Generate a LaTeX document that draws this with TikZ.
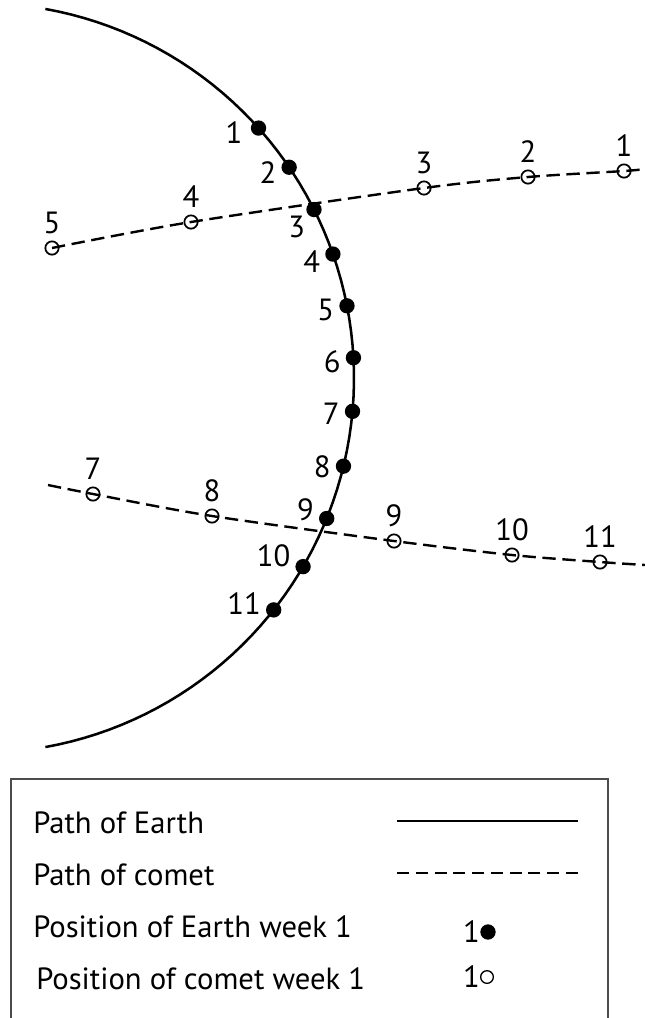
\documentclass[tikz,border=0pt]{standalone}
\usepackage{fontspec}
\setmainfont{PT Sans}
\usetikzlibrary{positioning}

\begin{document}
\begin{tikzpicture}[x=0.75pt,y=-0.75pt,
  earth/.style={line width=1.9pt},
  cometpath/.style={line width=1.8pt,dash pattern=on 10pt off 5pt},
  earthdot/.style={circle,fill=black,inner sep=0pt,minimum size=11.5pt},
  cometdot/.style={circle,draw,line width=1.3pt,inner sep=0pt,minimum size=10pt},
  num/.style={inner sep=0pt,font=\fontsize{23}{27}\selectfont}]
  \path[use as bounding box] (0,0) rectangle (645,1018);
  % path of the Earth
  \draw[earth] plot[domain=79.8:-79.8,samples=80] ({-21+375*cos(\x)},{378-375*sin(\x)});
  \foreach \k/\a/\dy/\gap in {1/41.8/-3.75/6,2/34.2/-3.75/3.5,3/26.7/-12.75/0.5,4/19.3/-6/3.5,
      5/11.1/-3/3.5,6/3.1/-3/3.5,7/-5.1/-1.5/3.5,8/-13.6/-0.75/3.5,9/-22.0/6.75/3.5,
      10/-30.2/8.25/3.5,11/-38.2/4.5/3.5}{
    \node[earthdot] (e\k) at ({-21+375*cos(\a)},{378-375*sin(\a)}) {};
    \node[num,left=\gap pt of e\k,yshift=\dy pt] (le\k) {\k};
  }
  % positions of the comet
  \foreach \k/\px/\py in {5/52/248,4/191/222,3/424/188,2/528/177,1/624/171,
      7/93/494,8/212/516,9/394/541,10/512/555,11/600/562}{
    \node[cometdot] (c\k) at (\px,\py) {};
    \node[num,above=5pt of c\k] (lc\k) {\k};
  }
  \coordinate (a1) at (645,169);
  \coordinate (b0) at (48,485);
  \coordinate (b1) at (645,565);
  \draw[cometpath] plot[smooth] coordinates {(c5.center) (c4.center) (c3.center) (c2.center) (c1.center) (a1)};
  \draw[cometpath] plot[smooth] coordinates {(b0) (c7.center) (c8.center) (c9.center) (c10.center) (c11.center) (b1)};
  % key
  \draw[black!70,line width=0.9pt] (11,1018) -- (11,779) -- (608,779) -- (608,1018);
  \node[num,anchor=base west] (k1) at (33,833) {Path of Earth};
  \node[num,anchor=base west] (k2) at (33,885) {Path of comet};
  \node[num,anchor=base west] (k3) at (33,937) {Position of Earth week 1};
  \node[num,anchor=base west] (k4) at (36,989) {Position of comet week 1};
  \draw[earth] (397,821) -- (578,821);
  \draw[line width=1.8pt,dash pattern=on 9pt off 5.08pt] (397,873) -- (578,873);
  \node[num,anchor=base east] (n1) at (480,942) {1};
  \node[earthdot] (d1) at (488,932) {};
  \node[num,anchor=base east] (n2) at (480,987) {1};
  \node[circle,draw,line width=1pt,inner sep=0pt,minimum size=9.5pt] (d2) at (487,977) {};
\end{tikzpicture}
\end{document}
